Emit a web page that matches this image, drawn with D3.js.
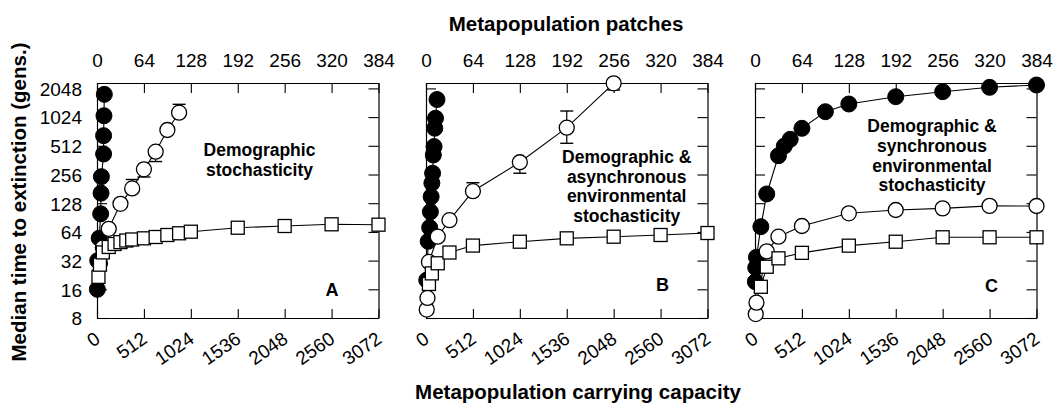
<!DOCTYPE html>
<html>
<head>
<meta charset="utf-8">
<script src="https://cdn.jsdelivr.net/npm/d3@7"></script>
<style>
  html, body { margin: 0; padding: 0; background: #fff; }
  svg { display: block; }
  text { font-family: "Liberation Sans", Arial, Helvetica, sans-serif; fill: #000; }
</style>
</head>
<body>
<svg id="chart" width="1054" height="404"></svg>
<script>
// ---------- DATA ----------
const patchTicks = [0, 64, 128, 192, 256, 320, 384];
const capacityTicks = [0, 512, 1024, 1536, 2048, 2560, 3072];
const timeTicks = [8, 16, 32, 64, 128, 256, 512, 1024, 2048];
const panelLetters = ["A", "B", "C"];
const panelNotes = [
  ["Demographic", "stochasticity"],
  ["Demographic &", "asynchronous", "environmental", "stochasticity"],
  ["Demographic &", "synchronous", "environmental", "stochasticity"]
];
const topTitle = "Metapopulation patches";
const bottomTitle = "Metapopulation carrying capacity";
const yTitle = "Median time to extinction (gens.)";

// Panel A
const aFilledX = [0.5, 1, 3, 5, 5.5, 6, 9, 9, 9.5, 10];
const aFilledY = [16, 32, 55, 99, 163, 243, 420, 654, 1059, 1775];
const aOpenX = [4, 8, 16, 32, 48, 64, 80, 96, 112];
const aOpenY = [30, 44, 69, 126, 183, 290, 444, 750, 1139];
const aOpenLo = [null, null, null, null, null, 241, 350, null, null];
const aOpenHi = [null, null, null, null, 227, null, null, null, 1395];
const aSquareX = [2, 4, 8, 16, 24, 32, 40, 48, 64, 80, 96, 112, 128, 192, 256, 320, 384];
const aSquareY = [21.6, 29, 39, 44.5, 47.8, 50, 52, 53.3, 54.8, 56.6, 59.4, 61.9, 64.3, 70.8, 73.8, 76.9, 76.2];

// Panel B
const bFilledX = [1, 3, 5, 6, 7, 8, 9, 10, 11, 12, 13, 15];
const bFilledY = [20, 51, 71, 104, 150, 208, 264, 410, 503, 783, 997, 1566];
const bOpenX = [1, 2, 4, 16, 32, 64, 128, 192, 256];
const bOpenY = [9.8, 13, 31, 57, 85, 171, 344, 793, 2317];
const bOpenLo = [null, null, null, null, null, null, 264, 544, 1970];
const bOpenHi = [null, null, null, null, null, 210, null, 1187, null];
const bSquareX = [4, 8, 16, 32, 64, 128, 192, 256, 320, 384];
const bSquareY = [18.2, 23.5, 30, 38.9, 46, 50.5, 54.8, 57, 59.4, 62.3];

// Panel C
const cFilledX = [0.5, 1, 2, 8, 16, 32, 40, 48, 64, 96, 128, 192, 256, 320, 384];
const cFilledY = [19.2, 27, 34.7, 72.6, 160, 403, 509, 599, 781, 1167, 1405, 1676, 1891, 2103, 2223];
const cOpenX = [1, 2, 16, 32, 64, 128, 192, 256, 320, 384];
const cOpenY = [8.8, 11.6, 40, 57, 73.8, 100.3, 108.6, 113, 120, 119.6];
const cSquareX = [8, 16, 32, 64, 128, 192, 256, 320, 384];
const cSquareY = [17, 27.6, 33.8, 38.6, 45.9, 50.5, 56.2, 56.2, 56.2];

const panels = [
  { filled: [aFilledX, aFilledY], open: [aOpenX, aOpenY, aOpenLo, aOpenHi], square: [aSquareX, aSquareY] },
  { filled: [bFilledX, bFilledY], open: [bOpenX, bOpenY, bOpenLo, bOpenHi], square: [bSquareX, bSquareY] },
  { filled: [cFilledX, cFilledY], open: [cOpenX, cOpenY, null, null], square: [cSquareX, cSquareY] }
];

// ---------- LAYOUT ----------
const panelLeft = [97, 426, 755];
const panelW = 281.5;
const plotTop = 83, plotBottom = 318;
const notePos = [[162.5, 150], [200.7, 156.7], [177, 126]];
const letterPos = [[235, 296], [236.5, 291], [236.5, 292]];

const svg = d3.select("#chart");

const y = d3.scaleLog().base(2).domain([8, 2334]).range([plotBottom, plotTop]);

function zipPts(xs, ys) { return xs.map((d, i) => ({ x: d, y: ys[i], i })); }

panels.forEach((p, pi) => {
  const left = panelLeft[pi];
  const xp = d3.scaleLinear().domain([0, 384]).range([left, left + panelW]);
  const xc = d3.scaleLinear().domain([0, 3072]).range([left, left + panelW]);
  const g = svg.append("g");

  // Axes
  const bottom = g.append("g").attr("transform", `translate(0,${plotBottom})`)
    .call(d3.axisBottom(xc).tickValues(capacityTicks).tickSizeInner(-9).tickSizeOuter(0).tickFormat(d3.format("d")));
  bottom.selectAll(".tick text")
    .attr("y", null).attr("dy", null)
    .attr("transform", "translate(4,23.6) rotate(-35)")
    .attr("text-anchor", "end")
    .style("font-size", "19px");

  const top = g.append("g").attr("transform", `translate(0,${plotTop})`)
    .call(d3.axisTop(xp).tickValues(patchTicks).tickSizeInner(-10).tickSizeOuter(0).tickFormat(d3.format("d")));
  top.selectAll(".tick text").attr("y", -16).attr("dy", null).style("font-size", "19px");

  const leftAx = g.append("g").attr("transform", `translate(${left},0)`)
    .call(d3.axisLeft(y).tickValues(timeTicks).tickSizeInner(-10).tickSizeOuter(0)
      .tickFormat(pi === 0 ? d3.format("d") : () => ""));
  leftAx.selectAll(".tick text").attr("x", -15).attr("dy", "0.36em").style("font-size", "19px");

  g.append("g").attr("transform", `translate(${left + panelW},0)`)
    .call(d3.axisRight(y).tickValues(timeTicks).tickSizeInner(-10).tickSizeOuter(0).tickFormat(() => ""));

  g.selectAll(".domain").attr("stroke", "#000").attr("stroke-width", 1.2);
  g.selectAll(".tick line").attr("stroke", "#000").attr("stroke-width", 1.1);
  g.selectAll("text").attr("fill", "#000").attr("font-family", null);

  const line = d3.line().x(d => xp(d.x)).y(d => y(d.y));
  const filled = zipPts(p.filled[0], p.filled[1]);
  const open = zipPts(p.open[0], p.open[1]);
  const sq = zipPts(p.square[0], p.square[1]);

  [filled, open, sq].forEach(pts => {
    g.append("path").datum(pts).attr("d", line)
      .attr("fill", "none").attr("stroke", "#000").attr("stroke-width", 1.1);
  });

  // error bars for open circles
  const lo = p.open[2], hi = p.open[3];
  if (lo) {
    open.forEach(d => {
      const cx = xp(d.x);
      [lo[d.i], hi[d.i]].forEach(v => {
        if (v == null) return;
        g.append("line").attr("x1", cx).attr("x2", cx).attr("y1", y(d.y)).attr("y2", y(v))
          .attr("stroke", "#000").attr("stroke-width", 1.2);
        g.append("line").attr("x1", cx - 6.5).attr("x2", cx + 6.5).attr("y1", y(v)).attr("y2", y(v))
          .attr("stroke", "#000").attr("stroke-width", 1.4);
      });
    });
  }

  g.selectAll(".fc").data(filled).join("circle")
    .attr("cx", d => xp(d.x)).attr("cy", d => y(d.y)).attr("r", 8)
    .attr("fill", "#000").attr("stroke", "#000").attr("stroke-width", 1);

  g.selectAll(".oc").data(open).join("circle")
    .attr("cx", d => xp(d.x)).attr("cy", d => y(d.y)).attr("r", 7.5)
    .attr("fill", "#fff").attr("stroke", "#000").attr("stroke-width", 1.3);

  g.selectAll(".sq").data(sq).join("rect")
    .attr("x", d => xp(d.x) - 6.5).attr("y", d => y(d.y) - 6.5)
    .attr("width", 13).attr("height", 13)
    .attr("fill", "#fff").attr("stroke", "#000").attr("stroke-width", 1.3);

  // annotation
  const note = g.append("text").attr("text-anchor", "middle")
    .style("font-size", "17.5px").style("font-weight", "bold");
  panelNotes[pi].forEach((t, k) => {
    note.append("tspan").attr("x", left + notePos[pi][0]).attr("y", notePos[pi][1] + 6 + k * 19.8).text(t);
  });

  g.append("text").attr("x", left + letterPos[pi][0]).attr("y", letterPos[pi][1])
    .attr("text-anchor", "middle").style("font-size", "18px").style("font-weight", "bold")
    .text(panelLetters[pi]);
});

svg.append("text").attr("x", 566).attr("y", 31).attr("text-anchor", "middle")
  .style("font-size", "20.5px").style("font-weight", "bold").text(topTitle);
svg.append("text").attr("x", 578).attr("y", 399).attr("text-anchor", "middle")
  .style("font-size", "20.5px").style("font-weight", "bold").text(bottomTitle);
svg.append("text").attr("transform", "translate(26,202) rotate(-90)").attr("text-anchor", "middle")
  .style("font-size", "20.5px").style("font-weight", "bold").text(yTitle);
</script>
</body>
</html>
